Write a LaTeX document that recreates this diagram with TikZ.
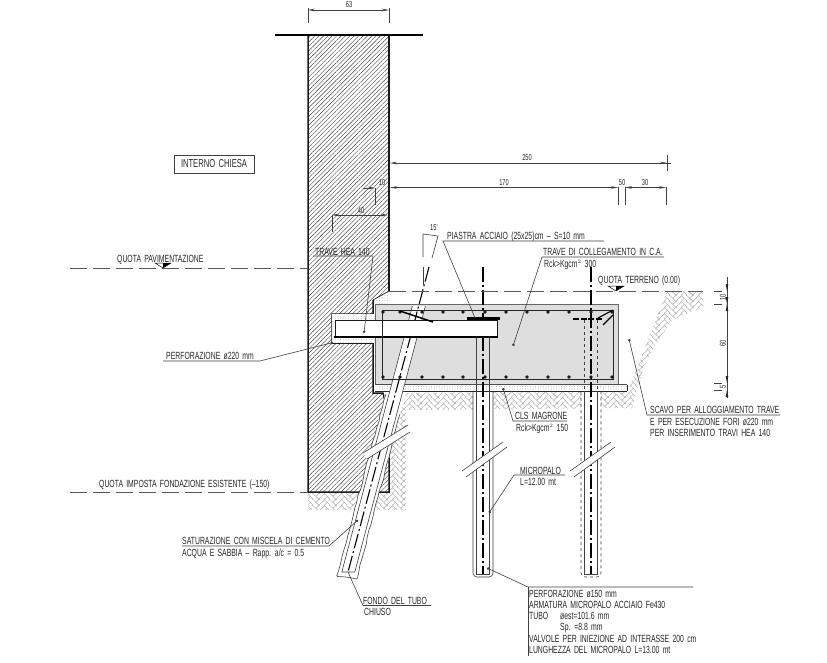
\documentclass[tikz,border=0pt]{standalone}
\usepackage{fontspec}
\setmainfont[FakeStretch=0.66,WordSpace=1.7]{Liberation Sans}
\usetikzlibrary{arrows.meta,patterns,patterns.meta,decorations.pathmorphing}
\pgfdeclarepatternformonly{herring}{\pgfpointorigin}{\pgfqpoint{16.8pt}{5.6pt}}{\pgfqpoint{16.8pt}{5.6pt}}{
    \pgfsetlinewidth{0.5pt}
    \pgftransformscale{1.4}
    \foreach \i in {-12,0,12}{
        \foreach \j in {-8,-4,0,4,8}{
            \begin{pgfscope}
            \pgftransformshift{\pgfpoint{\i pt}{\j pt}}
            \pgfpathmoveto{\pgfpoint{-2pt}{2pt}}
            \pgfpathlineto{\pgfpoint{0pt}{0pt}}
            \pgfpathlineto{\pgfpoint{6pt}{6pt}}
            \pgfpathmoveto{\pgfpoint{4pt}{8pt}}
            \pgfpathlineto{\pgfpoint{10pt}{2pt}}
            \pgfpathlineto{\pgfpoint{12pt}{4pt}}
            \pgfusepath{stroke}
            \end{pgfscope}
        }
    }
}
\tikzset{
    lab/.style={anchor=base west,inner sep=0pt,font=\fontsize{10.4}{12}\selectfont,text=black!85},
    dimlab/.style={inner sep=0pt,font=\fontsize{8.6}{10}\selectfont,text=black!85},
    thinline/.style={line width=0.6pt,draw=black!75},
    leader/.style={line width=0.6pt,draw=black!75,{Circle[length=2.6pt]}-},
    dimline/.style={line width=0.6pt,draw=black!75,{Stealth[length=7pt,width=2.6pt]}-{Stealth[length=7pt,width=2.6pt]}},
    wallout/.style={line width=1.5pt,draw=black!90},
    longdash/.style={line width=0.7pt,draw=black!65,dash pattern=on 17pt off 6pt},
    axisline/.style={line width=1.1pt,draw=black,dash pattern=on 15pt off 3pt on 2pt off 3pt},
    stipple/.style={pattern={Dots[distance=2.6pt,radius=0.3pt]},pattern color=black!65},
    rebar/.style={fill=black!90},
    brick/.style={pattern=herring,pattern color=black!32},
}
\newcommand{\quotamark}[2]{
    \draw[line width=0.5pt,fill=white] (#1-8,#2-5) -- (#1+8,#2-5) -- (#1,#2) -- cycle;
    \fill[black] (#1,#2-5) -- (#1+8,#2-5) -- (#1,#2) -- cycle;
}
\begin{document}
\begin{tikzpicture}[x=1pt,y=-1pt]
        \useasboundingbox (0,0) rectangle (827,662);
        \fill[white] (0,0) rectangle (827,662);

        \fill[brick] (389,393) -- (628,391) -- (667,291) -- (703,291) -- (703,307) -- (672,320) -- (652,350) -- (643,370) -- (632,408) -- (406,410) -- (406,510) -- (308,510) -- (308,492) -- (389,492) -- cycle;

        \fill[stipple] (373,300) -- (389,291) -- (389,304) -- (373,304) -- cycle;
        \fill[pattern={Lines[angle=45,distance=3.1pt,line width=0.42pt]},pattern color=black!75]
            (308,35) -- (389,35) -- (389,291) -- (373,300) -- (373,314) -- (332,314) -- (332,343) -- (373,343) -- (373,393) -- (383,393) -- (386,405) -- (389,458) -- (389,492) -- (308,492) -- cycle;
        \draw[wallout] (389,35) -- (389,291);
        \draw[line width=0.8pt,draw=black!80] (389,291) -- (373,300);
        \draw[wallout] (373,300) -- (373,314) -- (332,314) -- (332,343) -- (373,343) -- (373,393) -- (383,393) -- (386,405) -- (389,458) -- (389,492) -- (308,492) -- (308,35);
        \draw[line width=1.5pt] (275,35) -- (423,35);

        \fill[white] (332,314) rectangle (375,343);
        \fill[stipple] (332,314) rectangle (375,343);
        \fill[black!13] (375,304) rectangle (618,384);
        \draw[line width=0.8pt,draw=black!60] (618,384) -- (618,304) -- (375,304) -- (375,384);
        \fill[white] (375,385) rectangle (627,391);
        \fill[stipple] (375,385) rectangle (627,391);
        \draw[line width=0.6pt,draw=black!70] (375,384.5) -- (627,384.5);
        \draw[line width=1pt,draw=black!85] (375,391) -- (627,391);
        \draw[line width=1pt,draw=black!85] (627,384.5) -- (627,391);

        \foreach \px/\ps in {483/solid,591/dashed}{
            \fill[white] (\px-10,391.5) rectangle (\px+10,575);
            \draw[thinline,\ps,rounded corners=4pt] (\px-10,392) -- (\px-10,577) -- (\px+10,577) -- (\px+10,392);
            \draw[thinline,\ps] (\px-6.5,320) -- (\px-6.5,391);
            \draw[thinline,\ps] (\px+6.5,320) -- (\px+6.5,391);
            \draw[thinline] (\px-6.5,391) -- (\px-6.5,574) -- (\px+6.5,574) -- (\px+6.5,391);
            \draw[axisline] (\px,267) -- (\px,574);
            \fill[white] (\px-21,471) -- (\px+20,442) -- (\px+24,447) -- (\px-17,477) -- cycle;
            \draw[thinline] (\px-21,471) -- (\px+20,442) (\px-17,477) -- (\px+24,447);
        }

        \fill[white,decorate,decoration={random steps,segment length=6pt,amplitude=0.7pt}] (386,392) -- (336.7,576) -- (356.7,579) -- (406,392) -- cycle;
        \draw[thinline,rounded corners=1pt,decorate,decoration={random steps,segment length=7pt,amplitude=0.7pt}] (386,394) -- (336.7,576) -- (356.7,579) -- (400,414);
        \fill[white] (412.4,306) -- (425.4,306) -- (354.8,572) -- (341.8,572) -- cycle;
        \draw[thinline] (412.4,306) -- (341.8,572) -- (354.8,572) -- (425.4,306);
        \draw[axisline] (429,267) -- (348,572);
        \fill[white] (363,453) -- (408,425) -- (412,431) -- (367,459) -- cycle;
        \draw[thinline] (363,453) -- (408,425) (367,459) -- (410,432);

        \fill[white] (335,321) rectangle (497,337);
        \draw[line width=1pt,draw=black!90] (335,337) -- (335,320.5) -- (497,320.5) -- (497,337);
        \draw[line width=1.7pt,draw=black] (334,337) -- (498,337);

        \draw[line width=0.9pt,draw=black!85] (613,310) -- (382,310) -- (382,379) -- (613,379) -- cycle;
        \foreach \rx in {383,400,422,443,463,485,506,527,548,569,591,612}{
            \fill[rebar] (\rx,312) circle (1.8pt);
            \fill[rebar] (\rx,377) circle (1.8pt);
        }
        \draw[line width=2.4pt] (467,318.5) -- (500,318.5);
        \draw[line width=2pt,dash pattern=on 6pt off 1.5pt] (573,318.5) -- (603,318.5);
        \draw[line width=1.5pt] (400,311) -- (433,322);
        \draw[line width=1.1pt] (598,318) -- (613,310) (603,325) -- (613,315);

        \draw[longdash] (70,268) -- (308,268);
        \draw[longdash] (70,492) -- (308,492);
        \draw[longdash] (389,291) -- (703,291);
        \quotamark{163}{268}
        \quotamark{616}{291}

        \draw[thinline] (308,23) -- (308,8) (389,23) -- (389,8);
        \draw[dimline] (308,10) -- (389,10);
        \node[dimlab] (dim63) at (349,5) {63};
        \draw[dimline] (390,163) -- (667,163);
        \draw[thinline] (667,155) -- (667,171) (661,163) -- (671,163);
        \node[dimlab] (dim250) at (527,158) {250};
        \draw[dimline] (390,187.5) -- (618,187.5);
        \node[dimlab] (dim170) at (504,183) {170};
        \draw[dimline] (625,187.5) -- (666,187.5);
        \draw[thinline] (618,187) -- (618,205) (625,187) -- (625,205) (666,187) -- (666,205);
        \node[dimlab] (dim50) at (622,183) {50};
        \node[dimlab] (dim30) at (645,183) {30};
        \draw[thinline,-{Stealth[length=7pt,width=2.6pt]}] (363,188) -- (375,188);
        \draw[thinline] (375,188) -- (375,205);
        \node[dimlab] (dim10a) at (382,183) {10};
        \draw[dimline] (332,215) -- (388,215);
        \draw[thinline] (332,215) -- (332,232);
        \node[dimlab] (dim40) at (361,211) {40};
        \draw[thinline] (423,257) -- (423,234) -- (438,236) -- (432,258);
        \draw[thinline] (423,267) -- (423,285);
        \node[dimlab] (dim15) at (434,228) {15'};

        \draw[thinline] (727,277) -- (727,398);
        \foreach \ty in {291,304,383,390}{
            \draw[thinline] (714,\ty) -- (722,\ty);
        }
        \foreach \ty in {291,304,383}{
            \fill[black!85] (727,\ty) -- (725.7,\ty-7) -- (728.3,\ty-7) -- cycle;
        }
        \foreach \ty in {304,390}{
            \fill[black!85] (727,\ty) -- (725.7,\ty+7) -- (728.3,\ty+7) -- cycle;
        }
        \node[dimlab,rotate=90] (dim10b) at (723,297) {10};
        \node[dimlab,rotate=90] (dim60) at (723,343) {60};
        \node[dimlab,rotate=90] (dim5) at (723,387) {5};

        \node[draw=black!75,line width=0.6pt,minimum width=80pt,minimum height=18pt,inner sep=0pt,font=\fontsize{11.5}{13}\selectfont,text=black!85] (interno) at (214,164) {INTERNO CHIESA};
        \node[lab] (pavim) at (117,262) {QUOTA PAVIMENTAZIONE};
        \node[lab] (terreno) at (598,283) {QUOTA TERRENO (0.00)};
        \node[lab] (imposta) at (99,487) {QUOTA IMPOSTA FONDAZIONE ESISTENTE (--150)};

        \node[lab] (hea) at (315,255) {TRAVE HEA 140};
        \coordinate (headot) at (364,333);
        \coordinate (heaend) at (373,256);
        \draw[leader] (headot) -- (heaend) -- (313,256);

        \node[lab] (piastra) at (447,239) {PIASTRA ACCIAIO (25x25)cm -- S=10 mm};
        \coordinate (piastradot) at (475,318);
        \coordinate (piastraend) at (443,241);
        \draw[thinline] (piastradot) -- (piastraend) -- (604,241);

        \node[lab] (trave) at (543,255) {TRAVE DI COLLEGAMENTO IN C.A.};
        \node[lab] (rck) at (544,267) {Rck>Kgcm$^{\scriptscriptstyle 2}$ 300};
        \coordinate (travedot) at (513,346);
        \coordinate (traveend) at (542,257);
        \draw[leader] (travedot) -- (traveend) -- (664,257);

        \node[lab] (perf) at (166,359) {PERFORAZIONE ø220 mm};
        \coordinate (perfdot) at (333,342.5);
        \coordinate (perfend) at (260,361);
        \draw[leader] (perfdot) -- (perfend) -- (163,361);

        \node[lab] (satur) at (182,544) {SATURAZIONE CON MISCELA DI CEMENTO};
        \node[lab] (acqua) at (182,556) {ACQUA E SABBIA -- Rapp. a/c = 0.5};
        \coordinate (saturdot) at (358,520);
        \coordinate (saturend) at (329,546);
        \draw[leader] (saturdot) -- (saturend) -- (182,546);

        \node[lab] (fondo) at (363,604) {FONDO DEL TUBO};
        \node[lab] (chiuso) at (364,615) {CHIUSO};
        \coordinate (fondodot) at (348,572);
        \coordinate (fondoend) at (363,605.5);
        \draw[thinline] (fondodot) -- (fondoend) -- (431,605.5);

        \node[lab] (cls) at (515,419) {CLS MAGRONE};
        \node[lab] (rckb) at (516,431) {Rck>Kgcm$^{\scriptscriptstyle 2}$ 150};
        \coordinate (clsdot) at (503,388);
        \coordinate (clsend) at (513,421);
        \draw[leader] (clsdot) -- (clsend) -- (567,421);

        \node[lab] (micro) at (520,474) {MICROPALO};
        \node[lab] (micl) at (520,485) {L=12.00 mt};
        \coordinate (microdot) at (489,513);
        \coordinate (microend) at (514,475);
        \draw[leader] (microdot) -- (microend) -- (565,475);

        \node[lab] (scavo) at (650,413) {SCAVO PER ALLOGGIAMENTO TRAVE};
        \node[lab] (scavob) at (650,425) {E PER ESECUZIONE FORI ø220 mm};
        \node[lab] (scavoc) at (650,436) {PER INSERIMENTO TRAVI HEA 140};
        \coordinate (scavodot) at (629,339);
        \coordinate (scavoend) at (647,415);
        \draw[leader] (scavodot) -- (scavoend) -- (780,415);

        \coordinate (blockdot) at (487,568);
        \coordinate (blockend) at (528,587);
        \draw[leader] (blockdot) -- (blockend) -- (693,587);
        \draw[thinline] (blockend) -- (528,656);
        \node[lab] (blocka) at (529,597) {PERFORAZIONE ø150 mm};
        \node[lab] (blockb) at (529,608) {ARMATURA MICROPALO ACCIAIO Fe430};
        \node[lab] (blockc) at (529,619) {TUBO};
        \node[lab] (blockd) at (560,619) {øest=101.6 mm};
        \node[lab] (blocke) at (560,630) {Sp. =8.8 mm};
        \node[lab] (blockf) at (529,642) {VALVOLE PER INIEZIONE AD INTERASSE 200 cm};
        \node[lab] (blockg) at (529,653) {LUNGHEZZA DEL MICROPALO L=13.00 mt};
\end{tikzpicture}
\end{document}
